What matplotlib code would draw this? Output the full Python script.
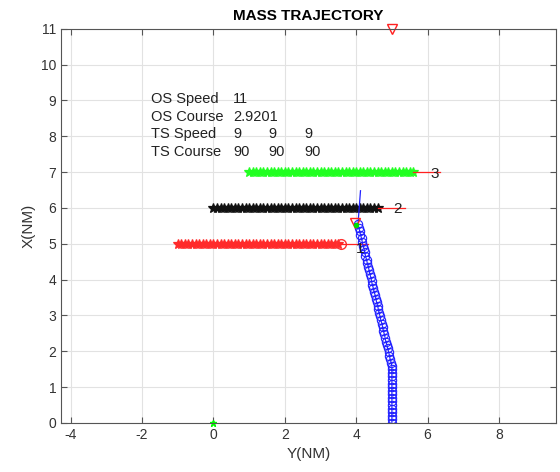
import matplotlib.pyplot as plt

plt.rcParams['font.family'] = ['Liberation Sans', 'DejaVu Sans']
plt.rcParams['axes.unicode_minus'] = False

# OS trajectory (blue circles)
os_y = [5.00, 5.00, 5.00, 5.00, 5.00, 5.00, 5.00, 5.00, 5.00, 5.00, 5.00, 5.00, 5.00, 5.00, 5.00, 5.00,
        5.00, 4.98, 4.95, 4.93, 4.91, 4.88, 4.86, 4.83, 4.81, 4.79, 4.76, 4.74, 4.72, 4.69, 4.67, 4.64,
        4.62, 4.60, 4.57, 4.55, 4.53, 4.50, 4.48, 4.45, 4.43, 4.41, 4.38, 4.36, 4.34, 4.31, 4.29, 4.26,
        4.24, 4.22, 4.19, 4.17, 4.15, 4.12, 4.10, 4.07, 4.05]
os_x = [0.00, 0.10, 0.20, 0.30, 0.40, 0.50, 0.60, 0.70, 0.80, 0.90, 1.00, 1.10, 1.20, 1.30, 1.40, 1.50,
        1.58, 1.68, 1.78, 1.88, 1.98, 2.08, 2.18, 2.27, 2.37, 2.47, 2.57, 2.67, 2.77, 2.87, 2.97, 3.07,
        3.17, 3.27, 3.37, 3.47, 3.57, 3.66, 3.76, 3.86, 3.96, 4.06, 4.16, 4.26, 4.36, 4.46, 4.56, 4.66,
        4.76, 4.86, 4.95, 5.05, 5.15, 5.25, 5.35, 5.45, 5.55]
os_vec_y = [4.05, 4.12]
os_vec_x = [5.55, 6.48]

# target ships (stars), Y positions along track, constant X
ts1_y = [-1.0, -0.9, -0.8, -0.7, -0.6, -0.5, -0.4, -0.3, -0.2, -0.1, 0.0, 0.1, 0.2, 0.3, 0.4, 0.5,
         0.6, 0.7, 0.8, 0.9, 1.0, 1.1, 1.2, 1.3, 1.4, 1.5, 1.6, 1.7, 1.8, 1.9, 2.0, 2.1, 2.2, 2.3,
         2.4, 2.5, 2.6, 2.7, 2.8, 2.9, 3.0, 3.1, 3.2, 3.3, 3.4, 3.5]
ts1_x = 5.0
ts2_y = [0.0, 0.1, 0.2, 0.3, 0.4, 0.5, 0.6, 0.7, 0.8, 0.9, 1.0, 1.1, 1.2, 1.3, 1.4, 1.5, 1.6, 1.7,
         1.8, 1.9, 2.0, 2.1, 2.2, 2.3, 2.4, 2.5, 2.6, 2.7, 2.8, 2.9, 3.0, 3.1, 3.2, 3.3, 3.4, 3.5,
         3.6, 3.7, 3.8, 3.9, 4.0, 4.1, 4.2, 4.3, 4.4, 4.5, 4.6]
ts2_x = 6.0
ts3_y = [1.0, 1.1, 1.2, 1.3, 1.4, 1.5, 1.6, 1.7, 1.8, 1.9, 2.0, 2.1, 2.2, 2.3, 2.4, 2.5, 2.6, 2.7,
         2.8, 2.9, 3.0, 3.1, 3.2, 3.3, 3.4, 3.5, 3.6, 3.7, 3.8, 3.9, 4.0, 4.1, 4.2, 4.3, 4.4, 4.5,
         4.6, 4.7, 4.8, 4.9, 5.0, 5.1, 5.2, 5.3, 5.4, 5.5, 5.6]
ts3_x = 7.0
ts1_end = 3.56
# velocity vectors (red lines) for targets: start, end
ts_vec = [(3.56, 4.34, 5.0), (4.6, 5.38, 6.0), (5.6, 6.36, 7.0)]
ts_labels = ['1', '2', '3']
ts_label_pos = [(4.1, 4.85), (5.15, 5.97), (6.2, 6.95)]

info_labels = ['OS Speed', 'OS Course', 'TS Speed', 'TS Course']
info_values = [['11'], ['2.9201'], ['9', '9', '9'], ['90', '90', '90']]

fig = plt.figure(figsize=(5.6, 4.72), dpi=100)
ax = fig.add_axes([0.109, 0.104, 0.884, 0.835])

ax.grid(True, color='#e2e2e2', linewidth=0.8)
ax.set_axisbelow(True)

# targets
ax.plot(ts1_y, [ts1_x] * len(ts1_y), '*', color='#ff2a2a', markersize=7.5, markeredgewidth=0.9)
ax.plot(ts2_y, [ts2_x] * len(ts2_y), '*', color='#111111', markersize=7.5, markeredgewidth=0.9)
ax.plot(ts3_y, [ts3_x] * len(ts3_y), '*', color='#22ff22', markersize=7.5, markeredgewidth=0.9)
ax.plot([ts1_end], [ts1_x], 'o', mfc='none', mec='#ff3030', markersize=7)
for (a, b, x), lab, (ly, lx) in zip(ts_vec, ts_labels, ts_label_pos):
    ax.plot([a, b], [x, x], color='#ff2020', linewidth=0.9)
    ax.text(ly, lx, lab, fontsize=11, color='#222222', ha='center', va='center', zorder=6)

# own ship
ax.plot(os_y, os_x, 'o-', color='#2020ff', mfc='none', markersize=6, markeredgewidth=0.8, linewidth=0.8)
ax.plot(os_vec_y, os_vec_x, color='#2020ff', linewidth=0.9)
ax.plot([3.98], [5.57], 'v', mfc='none', mec='#ff2020', markersize=7.5)
ax.plot([4.0], [5.52], '.', color='#00dd00', markersize=6)
ax.plot([5.0], [11.0], 'v', mfc='none', mec='#ff2020', markersize=7.5, clip_on=False)
ax.plot([0.0], [0.0], '*', color='#00ff00', markersize=5, clip_on=False)

# info text
info_y = [9.05, 8.55, 8.05, 7.55]
for lab, vals, yy in zip(info_labels, info_values, info_y):
    ax.text(-1.76, yy, lab, fontsize=10.5, color='#222222', va='center')
    for i, v in enumerate(vals):
        ax.text(0.55 + 1.0 * i, yy, v, fontsize=10.5, color='#222222', va='center')

ax.set_xlim(-4.27, 9.6)
ax.set_ylim(0, 11)
ax.set_xticks([-4, -2, 0, 2, 4, 6, 8])
ax.set_yticks(range(0, 12))
ax.tick_params(direction='in', top=True, right=True, labelsize=10, colors='#555555',
               labelcolor='#333333', length=4)
for s in ax.spines.values():
    s.set_color('#555555')
ax.set_xlabel('Y(NM)', fontsize=11, color='#333333')
ax.set_ylabel('X(NM)', fontsize=11, color='#333333')
ax.set_title('MASS TRAJECTORY', fontsize=11, fontweight='bold', pad=6)

plt.savefig('out.png', dpi=100)
